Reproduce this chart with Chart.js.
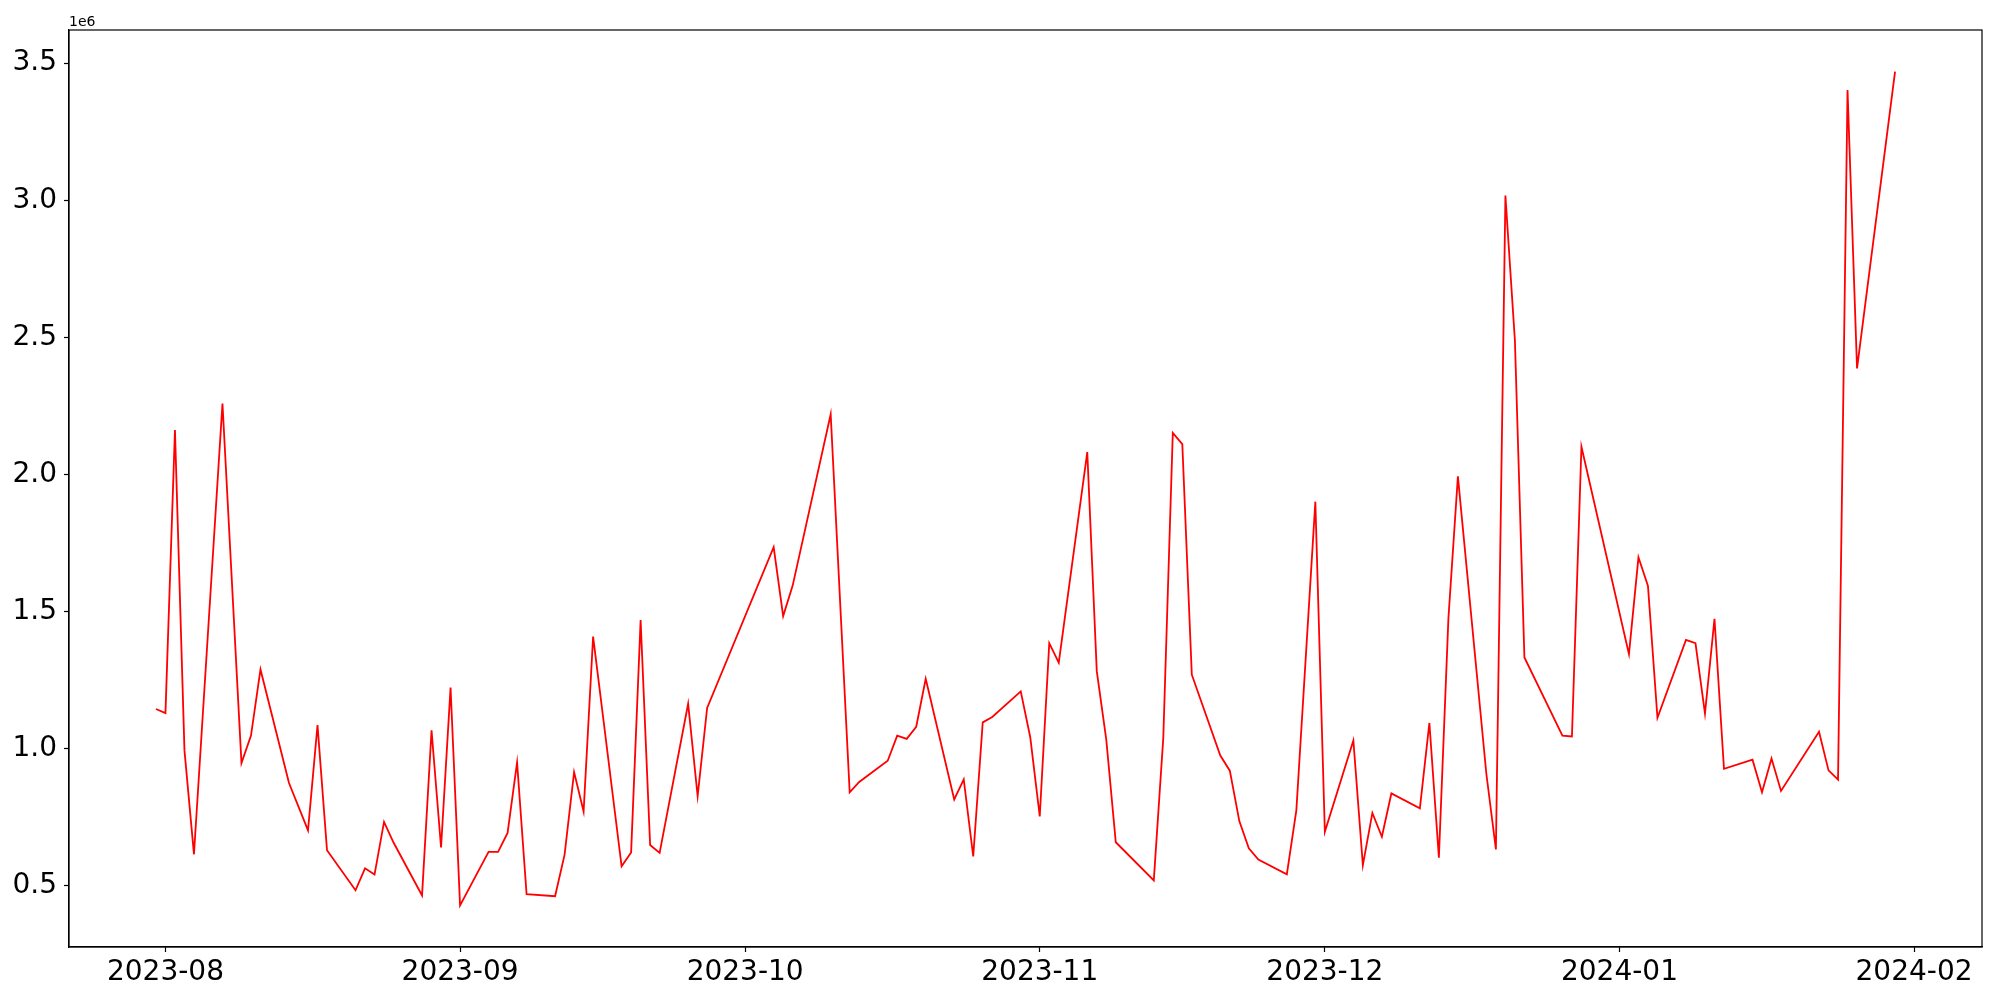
<!DOCTYPE html>
<html>
<head>
<meta charset="utf-8">
<script src="https://cdn.jsdelivr.net/npm/chart.js@4.4.0/dist/chart.umd.min.js"></script>
<style>
  body { margin: 0; background: #fff; }
  #wrap { width: 2000px; height: 1000px; }
</style>
</head>
<body>
<div id="wrap"><canvas id="lineChart" width="2000" height="1000"></canvas></div>
<script>
// dates of the samples
const dates = [
  '2023-07-31','2023-08-01','2023-08-02','2023-08-03','2023-08-04','2023-08-07','2023-08-09','2023-08-10',
  '2023-08-11','2023-08-14','2023-08-16','2023-08-17','2023-08-18','2023-08-21','2023-08-22','2023-08-23',
  '2023-08-24','2023-08-25','2023-08-28','2023-08-29','2023-08-30','2023-08-31','2023-09-01','2023-09-04',
  '2023-09-05','2023-09-06','2023-09-07','2023-09-08','2023-09-11','2023-09-12','2023-09-13','2023-09-14',
  '2023-09-15','2023-09-18','2023-09-19','2023-09-20','2023-09-21','2023-09-22','2023-09-25','2023-09-26',
  '2023-09-27','2023-10-04','2023-10-05','2023-10-06','2023-10-10','2023-10-12','2023-10-13','2023-10-16',
  '2023-10-17','2023-10-18','2023-10-19','2023-10-20','2023-10-23','2023-10-24','2023-10-25','2023-10-26',
  '2023-10-27','2023-10-30','2023-10-31','2023-11-01','2023-11-02','2023-11-03','2023-11-06','2023-11-07',
  '2023-11-08','2023-11-09','2023-11-13','2023-11-14','2023-11-15','2023-11-16','2023-11-17','2023-11-20',
  '2023-11-21','2023-11-22','2023-11-23','2023-11-24','2023-11-27','2023-11-28','2023-11-30','2023-12-01',
  '2023-12-04','2023-12-05','2023-12-06','2023-12-07','2023-12-08','2023-12-11','2023-12-12','2023-12-13',
  '2023-12-14','2023-12-15','2023-12-18','2023-12-19','2023-12-20','2023-12-21','2023-12-22','2023-12-26',
  '2023-12-27','2023-12-28','2024-01-02','2024-01-03','2024-01-04','2024-01-05','2024-01-08','2024-01-09',
  '2024-01-10','2024-01-11','2024-01-12','2024-01-15','2024-01-16','2024-01-17','2024-01-18','2024-01-22',
  '2024-01-23','2024-01-24','2024-01-25','2024-01-26','2024-01-30'
];

// values, same order as dates
const values = [
  1145000,1130000,2162000,994000,615000,2259000,948000,1048000,
  1289000,875000,702000,1086000,630000,484000,564000,541000,
  733000,658000,465000,1067000,640000,1223000,429000,624000,
  624000,693000,950000,470000,462000,614000,915000,771000,
  1409000,571000,622000,1469000,649000,620000,1164000,827000,
  1149000,1735000,1484000,1595000,2220000,841000,879000,956000,
  1048000,1036000,1080000,1255000,815000,888000,607000,1096000,
  1116000,1209000,1042000,753000,1385000,1314000,2082000,1283000,
  1033000,659000,520000,1040000,2152000,2111000,1270000,975000,
  920000,736000,637000,596000,542000,775000,1901000,697000,
  1030000,575000,766000,679000,837000,783000,1094000,603000,
  1474000,1993000,907000,633000,3017000,2488000,1333000,1048000,
  1045000,2101000,1345000,1698000,1594000,1113000,1397000,1385000,
  1128000,1474000,927000,960000,841000,964000,846000,1062000,
  921000,887000,3402000,2387000,3469000
];

// axis ticks
const xTickDates = ['2023-08-01','2023-09-01','2023-10-01','2023-11-01','2023-12-01','2024-01-01','2024-02-01'];
const xTickLabels = ['2023-08','2023-09','2023-10','2023-11','2023-12','2024-01','2024-02'];
const yTickValues = [500000,1000000,1500000,2000000,2500000,3000000,3500000];

// days since 2023-08-01
const base = Date.UTC(2023, 7, 1);
function toDay(s) {
  const p = s.split('-');
  return (Date.UTC(+p[0], +p[1] - 1, +p[2]) - base) / 86400000;
}

const points = dates.map((d, i) => ({ x: toDay(d), y: values[i] }));
const xTicks = xTickDates.map(toDay);

// matplotlib style 5% margins
const xs = points.map(p => p.x);
const ys = points.map(p => p.y);
const xMin = Math.min(...xs), xMax = Math.max(...xs);
const yMin = Math.min(...ys), yMax = Math.max(...ys);
const xPad = (xMax - xMin) * 0.05;
const yPad = (yMax - yMin) * 0.05;

const font = { family: 'DejaVu Sans', size: 28 };

// full box round the plot and the 1e6 offset label
const framePlugin = {
  id: 'frame',
  afterDraw(chart) {
    const a = chart.chartArea;
    const ctx = chart.ctx;
    ctx.save();
    ctx.strokeStyle = '#000';
    ctx.lineWidth = 1.2;
    ctx.strokeRect(a.left, a.top, a.right - a.left, a.bottom - a.top);
    ctx.fillStyle = '#000';
    ctx.font = '14px "DejaVu Sans"';
    ctx.textAlign = 'left';
    ctx.textBaseline = 'alphabetic';
    ctx.fillText('1e6', a.left, a.top - 4);
    ctx.restore();
  }
};

const ctx = document.getElementById('lineChart').getContext('2d');
new Chart(ctx, {
  type: 'line',
  data: {
    datasets: [{
      data: points,
      borderColor: 'red',
      borderWidth: 1.8,
      pointRadius: 0,
      tension: 0,
      fill: false,
    }]
  },
  options: {
    responsive: false,
    animation: false,
    devicePixelRatio: 1,
    layout: { padding: { top: 30, right: 18, left: 0, bottom: 0 } },
    plugins: { legend: { display: false }, tooltip: { enabled: false } },
    scales: {
      x: {
        type: 'linear',
        min: xMin - xPad,
        max: xMax + xPad,
        afterBuildTicks: (scale) => { scale.ticks = xTicks.map(v => ({ value: v })); },
        afterFit: (scale) => { scale.height = 53; },
        grid: { drawOnChartArea: false, drawTicks: true, tickLength: 5, tickColor: '#000', tickWidth: 1.2 },
        border: { display: true, color: '#000', width: 1.2 },
        ticks: {
          color: '#000',
          font: font,
          padding: 4,
          maxRotation: 0,
          autoSkip: false,
          callback: (v, i) => xTickLabels[i],
        },
      },
      y: {
        type: 'linear',
        min: yMin - yPad,
        max: yMax + yPad,
        afterBuildTicks: (scale) => { scale.ticks = yTickValues.map(v => ({ value: v })); },
        afterFit: (scale) => { scale.width = 69; },
        grid: { drawOnChartArea: false, drawTicks: true, tickLength: 5, tickColor: '#000', tickWidth: 1.2 },
        border: { display: true, color: '#000', width: 1.2 },
        ticks: {
          color: '#000',
          font: font,
          padding: 7,
          callback: (v) => (v / 1e6).toFixed(1),
        },
      },
    },
  },
  plugins: [framePlugin],
});
</script>
</body>
</html>
